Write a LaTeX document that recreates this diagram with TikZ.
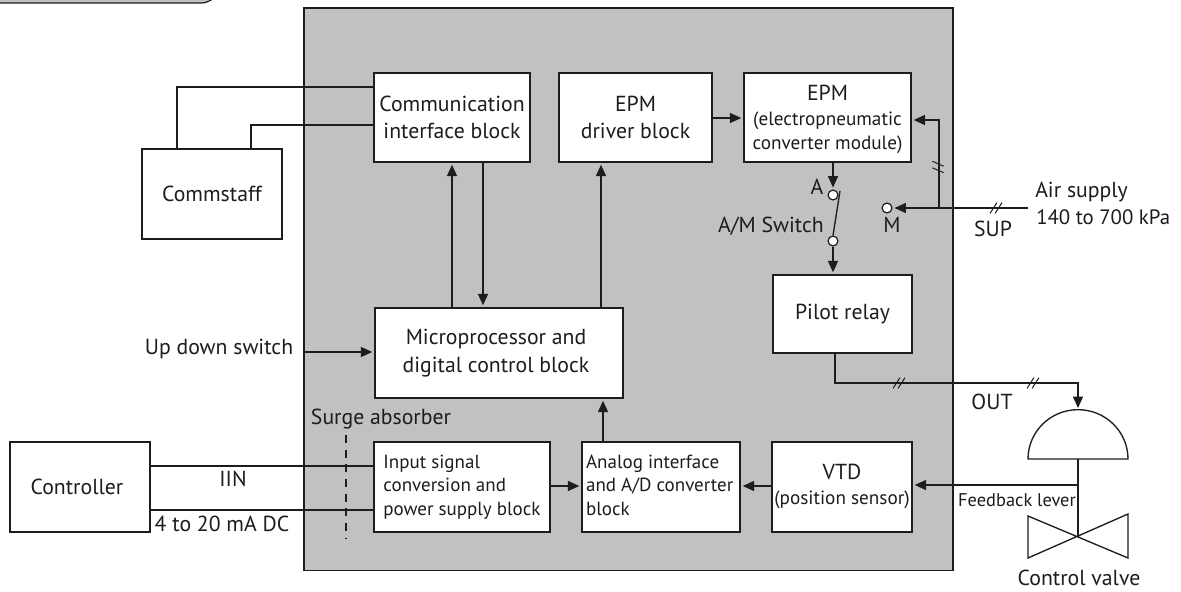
\documentclass[tikz,border=0pt]{standalone}
\usepackage{fontspec}
\setmainfont{PT Sans}
\usetikzlibrary{arrows.meta}
\definecolor{panel}{RGB}{192,193,195}
\definecolor{ink}{RGB}{30,28,28}
\newcommand{\subfont}{\fontsize{14.4}{17.5}\selectfont}
\tikzset{
  x=0.75pt,y=-0.75pt,
  block/.style={draw=ink,fill=white,line width=1.1pt,inner sep=0pt,align=center,text=ink,font=\fontsize{16.3}{20.6}\selectfont},
  smallblock/.style={block,font=\fontsize{14.25}{17.6}\selectfont},
  lab/.style={draw=none,inner sep=0pt,text=ink,font=\fontsize{16.3}{20}\selectfont,align=center,anchor=base},
  smalllab/.style={lab,font=\fontsize{13.8}{16}\selectfont},
  wire/.style={draw=ink,line width=1pt},
  arr/.style={wire,shorten >=1.5pt,-{Triangle[length=8.5pt,width=7.5pt]}},
  term/.style={circle,draw=ink,fill=white,line width=0.9pt,minimum size=7.4pt,inner sep=0pt},
  tick/.style={draw=ink,line width=0.75pt}
}
\newcommand{\boxat}[6]{\node[#1,minimum width=#4*0.75pt-#2*0.75pt,minimum height=#5*0.75pt-#3*0.75pt] (#6) at ({(#2+#4)/2},{(#3+#5)/2})}
\newcommand{\slashes}[1]{%
  \draw[tick] ([xshift=-4.5pt,yshift=-4pt]#1) -- ([xshift=0.7pt,yshift=4pt]#1);
  \draw[tick] ([xshift=-0.7pt,yshift=-4pt]#1) -- ([xshift=4.5pt,yshift=4pt]#1);}
\newcommand{\vslashes}[1]{%
  \draw[tick] ([xshift=-4.2pt,yshift=4.3pt]#1) -- ([xshift=4.2pt,yshift=0.6pt]#1);
  \draw[tick] ([xshift=-4.2pt,yshift=-0.6pt]#1) -- ([xshift=4.2pt,yshift=-4.3pt]#1);}
\begin{document}
\begin{tikzpicture}
\useasboundingbox (0,0) rectangle (1181,592);
\path[fill=white,draw=none] (0,0) rectangle (1181,592);
% cropped tab at the top left
\begin{scope}
\clip (0,0) rectangle (1181,592);
\path[fill=panel,draw=ink,line width=0.9pt] (-5,-5) -- (-5,3) -- (201,3) .. controls (206,3) and (210,1) .. (214,-2) -- cycle;
\end{scope}
% main panel
\path[fill=panel,draw=ink,line width=0.9pt] (304,8) rectangle (953,570.5);
% blocks
\boxat{block}{374}{73}{530}{162}{comm} {Communication\\interface block};
\boxat{block}{559}{73}{712}{162}{drv} {EPM\\driver block};
\boxat{block}{744}{73}{911}{162}{epm} {\raisebox{-6pt}[0pt][0pt]{\begin{tabular}{@{}c@{}}EPM\\[-1.85pt]\subfont (electropneumatic\\[-2.6pt]\subfont converter module)\end{tabular}}};
\boxat{block}{773}{275}{912}{353}{pilot} {Pilot relay};
\boxat{block}{375}{308}{623}{398}{micro} {\hbox{\begin{tabular}{@{}c@{}}Microprocessor and\\digital control block\end{tabular}\kern4.5pt}};
\boxat{smallblock}{374}{442}{550}{532}{input} {\begin{tabular}{@{}l@{}}Input signal\\conversion and\\power supply block\end{tabular}};
\boxat{smallblock}{582}{442}{740}{532}{adc} {\hbox{\begin{tabular}{@{}l@{}}Analog interface\\and A/D converter\\block\end{tabular}\kern2pt}};
\boxat{block}{772}{442}{912}{532}{vtd} {\begin{tabular}{@{}c@{}}VTD\\[-1.85pt]\subfont (position sensor)\end{tabular}};
\boxat{block}{10}{442}{150}{532}{ctrl} {\hbox{Controller\kern4.5pt}};
\boxat{block}{142}{149}{282}{239}{staff} {Commstaff};
% reference positions
\coordinate (cA) at (177,87);
\coordinate (cB) at (251,125);
\coordinate (up) at (452,0);
\coordinate (down) at (483,0);
\coordinate (drvx) at (601,0);
\coordinate (adcx) at (603,0);
\coordinate (eah) at (0,118);
\coordinate (sigy) at (0,486);
\coordinate (iin) at (0,466);
\coordinate (iout) at (0,510);
% switch
\node[term] (tA) at (833,195) {};
\node[term] (tB) at (833,241) {};
\node[term] (tM) at (887,208) {};
\coordinate (lever) at (840,191);
\coordinate (air) at (1028,208);
\coordinate (br) at (939,208);
\coordinate (brup) at (939,120);
\coordinate (sw) at (304,352);
\coordinate (pA) at (835,383);
\coordinate (pB) at (1078,383);
\coordinate (dome) at (1078,410);
\coordinate (domeL) at (1028,459);
\coordinate (stem) at (1078,459);
\coordinate (vc) at (1078,536);
\coordinate (fb) at (1078,485);
\coordinate (s1) at (938,167);
\coordinate (s2) at (996,208);
\coordinate (s3) at (899,383);
\coordinate (s4) at (1033,383);
\coordinate (dashT) at (346,435);
\coordinate (dashB) at (346,538);
% comm lines
\draw[wire] (comm.west |- cA) -- (cA) -- (cA |- staff.north);
\draw[wire] (comm.west |- cB) -- (cB) -- (cB |- staff.north);
% arrows between blocks
\draw[arr] (micro.north -| up) -- (comm.south -| up);
\draw[arr] (comm.south -| down) -- (micro.north -| down);
\draw[arr] (micro.north -| drvx) -- (drv.south -| drvx);
\draw[arr] (drv.east |- eah) -- (epm.west |- eah);
\draw[arr] (adc.north -| adcx) -- (micro.south -| adcx);
\draw[arr] (input.east |- sigy) -- (adc.west |- sigy);
\draw[arr] (vtd.west |- sigy) -- (adc.east |- sigy);
\draw[arr] (sw) -- (micro.west |- sw);
\draw[wire] (ctrl.east |- iin) -- (input.west |- iin);
\draw[wire] (ctrl.east |- iout) -- (input.west |- iout);
\draw[wire,line width=0.8pt,dash pattern=on 6pt off 5pt] (dashT) -- (dashB);
% switch wires
\draw[arr] (epm.south -| tA) -- (tA.north);
\draw[arr] (tB.south) -- (pilot.north -| tB);
\draw[wire] (tB.north) -- (lever);
\draw[arr] (air) -- (tM.east);
\draw[arr] (br) -- (brup) -- (epm.east |- brup);
\vslashes{s1}\slashes{s2}
% output
\draw[arr] (pilot.south -| pA) -- (pA) -- (pB) -- (dome);
\slashes{s3}\slashes{s4}
% actuator and valve
\draw[wire] (domeL) arc[start angle=180,end angle=0,x radius=37.5pt,y radius=37pt] -- cycle;
\draw[wire] (stem) -- (vc);
\draw[wire] (vc) -- (1128,514) -- (1128,558) -- (1028,516) -- (1028,558) -- cycle;
\draw[arr] (fb) -- (vtd.east |- fb);
% labels
\node[lab] (l1) at (219,354) {Up down switch};
\node[lab] (l2) at (381,424) {Surge absorber};
\node[lab] (l3) at (233,486) {IIN};
\node[lab] (l4) at (222,531) {4 to 20 mA DC};
\node[lab,anchor=base west] (l6) at (1035,197) {Air supply};
\node[lab,anchor=base west,font=\fontsize{15.6}{20}\selectfont] (l5) at (1036,224) {140 to 700 kPa};
\node[lab] (l7) at (993,236) {SUP};
\node[lab] (l8) at (992,409) {OUT};
\node[smalllab] (l9) at (1017,506) {Feedback lever};
\node[lab] (l10) at (1079,585) {Control valve};
\node[lab] (l11) at (817,194) {A};
\node[lab] (l12) at (892,232) {M};
\node[lab,anchor=base east] (l13) at (824,232) {A/M Switch};
\end{tikzpicture}
\end{document}
